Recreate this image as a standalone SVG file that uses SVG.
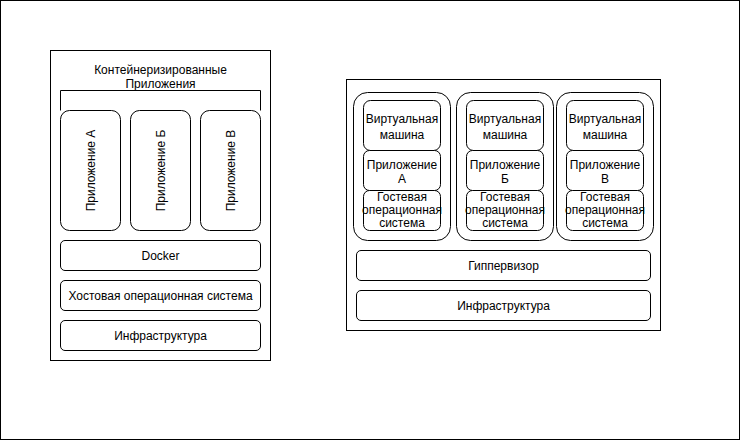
<svg xmlns="http://www.w3.org/2000/svg" width="741" height="441" viewBox="0 0 741 441">
<style>
  .box{fill:#fff;stroke:#000;stroke-width:1}
  .frame{fill:none;stroke:#000;stroke-width:1}
  text{font-family:"Liberation Sans",Arial,sans-serif;font-size:12px;fill:#000;text-anchor:middle}
</style>
<rect x="0.5" y="0.5" width="739" height="439" class="frame"/>

<g id="containers">
  <rect x="50.5" y="50.5" width="220" height="310" class="box"/>
  <text x="160.5" y="73.5">Контейнеризированные</text>
  <text x="160.5" y="87.5">Приложения</text>
  <path d="M60.5 110.5 V90.5 H260.5 V110.5" class="frame"/>
</g>
<g id="app-a">
  <rect x="60.5" y="110.5" width="60" height="120" rx="9" class="box"/>
  <text transform="translate(94.5,170.5) rotate(-90)">Приложение А</text>
</g>
<g id="app-b">
  <rect x="130.5" y="110.5" width="60" height="120" rx="9" class="box"/>
  <text transform="translate(164.5,170.5) rotate(-90)">Приложение Б</text>
</g>
<g id="app-c">
  <rect x="200.5" y="110.5" width="60" height="120" rx="9" class="box"/>
  <text transform="translate(234.5,170.5) rotate(-90)">Приложение В</text>
</g>
<g id="docker">
  <rect x="60.5" y="240.5" width="200" height="30" rx="4.5" class="box"/>
  <text x="160.5" y="259.5">Docker</text>
</g>
<g id="host-os">
  <rect x="60.5" y="280.5" width="200" height="30" rx="4.5" class="box"/>
  <text x="160.5" y="299.5">Хостовая операционная система</text>
</g>
<g id="infra-left">
  <rect x="60.5" y="320.5" width="200" height="30" rx="4.5" class="box"/>
  <text x="160.5" y="339.5">Инфраструктура</text>
</g>

<g id="vms">
  <rect x="346.5" y="79.5" width="314" height="251" class="box"/>
</g>
<g id="vm-a">
  <rect x="353.5" y="92.5" width="97" height="148" rx="14" class="box"/>
  <rect x="363.5" y="100.5" width="77" height="50" rx="7" class="box"/>
  <text x="402" y="123">Виртуальная</text>
  <text x="402" y="139">машина</text>
  <rect x="363.5" y="150.5" width="77" height="40" rx="6" class="box"/>
  <text x="402" y="168.5">Приложение</text>
  <text x="402" y="182.5">А</text>
  <rect x="363.5" y="190.5" width="77" height="40" rx="6" class="box"/>
  <text x="402" y="201">Гостевая</text>
  <text x="402" y="214">операционная</text>
  <text x="402" y="227">система</text>
</g>
<g id="vm-b">
  <rect x="456.5" y="92.5" width="97" height="148" rx="14" class="box"/>
  <rect x="466.5" y="100.5" width="77" height="50" rx="7" class="box"/>
  <text x="505" y="123">Виртуальная</text>
  <text x="505" y="139">машина</text>
  <rect x="466.5" y="150.5" width="77" height="40" rx="6" class="box"/>
  <text x="505" y="168.5">Приложение</text>
  <text x="505" y="182.5">Б</text>
  <rect x="466.5" y="190.5" width="77" height="40" rx="6" class="box"/>
  <text x="505" y="201">Гостевая</text>
  <text x="505" y="214">операционная</text>
  <text x="505" y="227">система</text>
</g>
<g id="vm-c">
  <rect x="556.5" y="92.5" width="97" height="148" rx="14" class="box"/>
  <rect x="566.5" y="100.5" width="77" height="50" rx="7" class="box"/>
  <text x="605" y="123">Виртуальная</text>
  <text x="605" y="139">машина</text>
  <rect x="566.5" y="150.5" width="77" height="40" rx="6" class="box"/>
  <text x="605" y="168.5">Приложение</text>
  <text x="605" y="182.5">В</text>
  <rect x="566.5" y="190.5" width="77" height="40" rx="6" class="box"/>
  <text x="605" y="201">Гостевая</text>
  <text x="605" y="214">операционная</text>
  <text x="605" y="227">система</text>
</g>
<g id="hypervisor">
  <rect x="356.5" y="250.5" width="294" height="30" rx="4.5" class="box"/>
  <text x="503.5" y="269.5">Гиппервизор</text>
</g>
<g id="infra-right">
  <rect x="356.5" y="290.5" width="294" height="30" rx="4.5" class="box"/>
  <text x="503.5" y="309.5">Инфраструктура</text>
</g>
<g id="connectors"/>
</svg>
